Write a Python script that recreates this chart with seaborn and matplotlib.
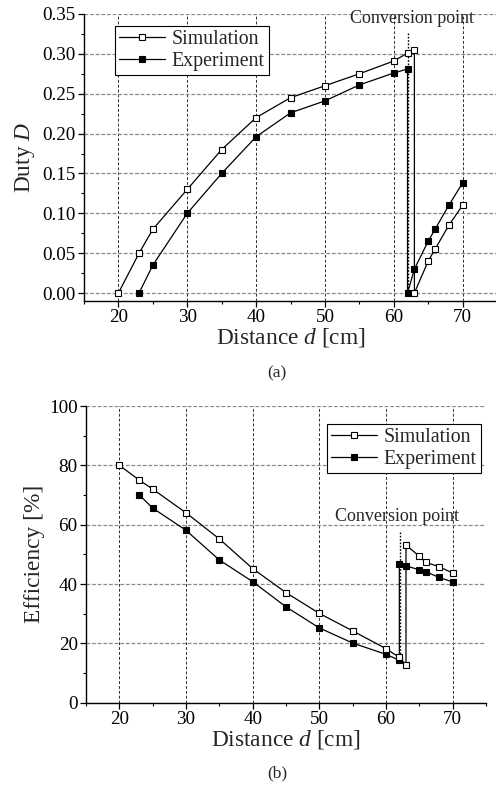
import numpy as np
import pandas as pd
import seaborn as sns
import matplotlib
matplotlib.use("Agg")
import matplotlib.pyplot as plt
from matplotlib.ticker import MultipleLocator, AutoMinorLocator

# ---- Duty cycle vs distance (a) ----
duty_sim_d = [20, 23, 25, 30, 35, 40, 45, 50, 55, 60, 62, 63, 63, 65, 66, 68, 70]
duty_sim_v = [0.0, 0.05, 0.08, 0.13, 0.18, 0.22, 0.245, 0.26, 0.275, 0.291, 0.301, 0.305,
              0.0, 0.04, 0.055, 0.085, 0.11]
duty_exp_d = [23, 25, 30, 35, 40, 45, 50, 55, 60, 62, 62, 63, 65, 66, 68, 70]
duty_exp_v = [0.0, 0.035, 0.10, 0.15, 0.196, 0.226, 0.241, 0.261, 0.276, 0.281,
              0.0, 0.030, 0.065, 0.080, 0.110, 0.138]

# ---- Efficiency vs distance (b) ----
eff_sim_d = [20, 23, 25, 30, 35, 40, 45, 50, 55, 60, 62, 63, 63, 65, 66, 68, 70]
eff_sim_v = [80.0, 75.0, 72.0, 64.0, 55.2, 45.2, 37.1, 30.1, 24.2, 18.2, 15.3, 12.7,
             53.2, 49.3, 47.3, 45.8, 43.7]
eff_exp_d = [23, 25, 30, 35, 40, 45, 50, 55, 60, 62, 62, 63, 65, 66, 68, 70]
eff_exp_v = [70.0, 65.6, 58.1, 48.1, 40.8, 32.3, 25.2, 20.1, 16.3, 14.3,
             46.8, 46.1, 44.8, 44.1, 42.2, 40.7]

series_names = ["Simulation", "Experiment"]
x_ticks = [20, 30, 40, 50, 60, 70]
conversion_d = 62.1

sns.set_style("ticks")
plt.rcParams["font.family"] = ["Liberation Serif", "DejaVu Serif"]
plt.rcParams["mathtext.fontset"] = "custom"
plt.rcParams["mathtext.rm"] = "Liberation Serif"
plt.rcParams["mathtext.it"] = "Liberation Serif:italic"

fig = plt.figure(figsize=(4.96, 7.89), dpi=100)
W, H = 496.0, 789.0
ax1 = fig.add_axes([84 / W, 1 - 301 / H, 413 / W, 287 / H])
ax2 = fig.add_axes([86 / W, 1 - 702.7 / H, 400 / W, 296.7 / H])

marker_kw = dict(marker="s", markersize=4.6, markeredgewidth=0.8,
                 markeredgecolor="black", linewidth=0.9, color="black")


def draw_panel(ax, sd, sv, ed, ev):
    sns.lineplot(x=ed, y=ev, ax=ax, sort=False, estimator=None,
                 markerfacecolor="black", label=series_names[1], zorder=4, **marker_kw)
    sns.lineplot(x=sd, y=sv, ax=ax, sort=False, estimator=None,
                 markerfacecolor="white", label=series_names[0], zorder=5, **marker_kw)


def style_axes(ax):
    ax.set_xlim(15, 75)
    ax.xaxis.set_major_locator(MultipleLocator(10))
    ax.xaxis.set_minor_locator(AutoMinorLocator(2))
    ax.yaxis.set_minor_locator(AutoMinorLocator(2))
    for s in ("top", "right"):
        ax.spines[s].set_visible(False)
    for s in ("left", "bottom"):
        ax.spines[s].set_linewidth(1.0)
        ax.spines[s].set_color("black")
    ax.tick_params(which="major", length=4, width=0.9, labelsize=13.8, colors="black", pad=2)
    ax.tick_params(which="minor", length=2.3, width=0.8, colors="black")
    ax.xaxis.grid(True, which="major", color="#2e2e2e", linestyle=(0, (3, 2)), linewidth=0.7)
    ax.yaxis.grid(True, which="major", color="#8a8a8a", linestyle=(0, (3, 1.5)), linewidth=0.9)
    ax.set_axisbelow(True)
    ax.set_xlabel("Distance $d$ [cm]", fontsize=16.8, labelpad=0)


def add_legend(ax, anchor):
    handles, labels = ax.get_legend_handles_labels()
    order = [labels.index(n) for n in series_names]
    leg = ax.legend([handles[i] for i in order], [labels[i] for i in order],
                    loc="upper left", bbox_to_anchor=anchor, borderaxespad=0,
                    fontsize=14.3, frameon=True, fancybox=False, shadow=False,
                    handlelength=2.3, handletextpad=0.35, labelspacing=0.15,
                    borderpad=0.2, framealpha=1)
    leg.get_frame().set_edgecolor("black")
    leg.get_frame().set_linewidth(0.8)


# Panel (a)
draw_panel(ax1, duty_sim_d, duty_sim_v, duty_exp_d, duty_exp_v)
style_axes(ax1)
ax1.set_ylim(-0.01, 0.35)
ax1.yaxis.set_major_locator(MultipleLocator(0.05))
ax1.yaxis.set_major_formatter(matplotlib.ticker.FormatStrFormatter("%.2f"))
ax1.set_xticks(x_ticks)
ax1.set_ylabel("Duty $D$", fontsize=16.8, labelpad=4)
ax1.plot([conversion_d, conversion_d], [0.326, 0.0], color="black",
         linestyle=(0, (1.2, 1.2)), linewidth=1.0, zorder=3)
ax1.text(62.7, 0.344, "Conversion point", fontsize=13, ha="center", va="center")
add_legend(ax1, (0.075, 0.958))
fig.text(277 / W, 1 - 373 / H, "(a)", fontsize=12.5, ha="center", va="center")

# Panel (b)
draw_panel(ax2, eff_sim_d, eff_sim_v, eff_exp_d, eff_exp_v)
style_axes(ax2)
ax2.set_ylim(0, 100)
ax2.yaxis.set_major_locator(MultipleLocator(20))
ax2.set_xticks(x_ticks)
ax2.set_ylabel("Efficiency [%]", fontsize=16.8, labelpad=3)
ax2.plot([conversion_d, conversion_d], [57.5, 14.3], color="black",
         linestyle=(0, (1.2, 1.2)), linewidth=1.0, zorder=3)
ax2.text(61.6, 62.7, "Conversion point", fontsize=13, ha="center", va="center")
add_legend(ax2, (0.603, 0.938))
fig.text(277 / W, 1 - 773 / H, "(b)", fontsize=12.5, ha="center", va="center")

fig.savefig("out.png", dpi=100)
